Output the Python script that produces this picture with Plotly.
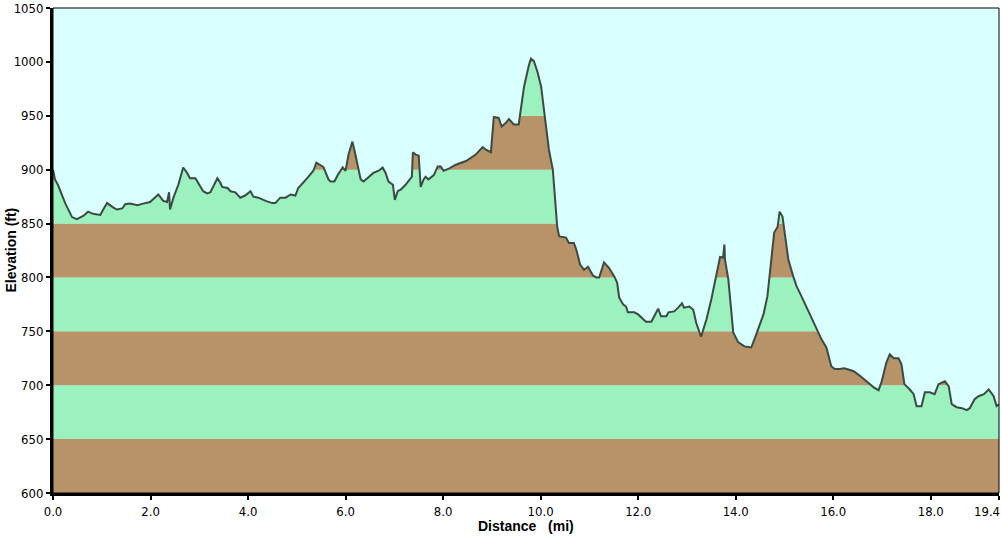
import plotly.graph_objects as go

# Distance (mi) and elevation (ft) along the route
distance_mi = [0.00, 0.04, 0.10, 0.25, 0.39, 0.49, 0.62, 0.72, 0.82, 0.97, 1.03, 1.11, 1.23, 1.31, 1.42, 1.48,
               1.58, 1.73, 1.85, 1.99, 2.16, 2.26, 2.34, 2.38, 2.40, 2.47, 2.57, 2.67, 2.75, 2.81, 2.92, 3.08,
               3.16, 3.23, 3.37, 3.43, 3.47, 3.58, 3.64, 3.74, 3.84, 3.94, 4.05, 4.11, 4.21, 4.36, 4.50, 4.56,
               4.66, 4.77, 4.87, 4.97, 5.03, 5.14, 5.24, 5.34, 5.40, 5.53, 5.55, 5.65, 5.69, 5.77, 5.84, 5.94,
               6.00, 6.06, 6.14, 6.18, 6.27, 6.31, 6.37, 6.47, 6.57, 6.68, 6.76, 6.82, 6.88, 6.97, 7.01, 7.07,
               7.13, 7.23, 7.36, 7.38, 7.44, 7.50, 7.54, 7.60, 7.64, 7.70, 7.81, 7.89, 7.95, 8.01, 8.12, 8.26,
               8.47, 8.67, 8.81, 8.88, 8.98, 9.04, 9.14, 9.20, 9.29, 9.35, 9.45, 9.55, 9.60, 9.66, 9.76, 9.80,
               9.86, 9.94, 10.01, 10.07, 10.17, 10.25, 10.34, 10.38, 10.52, 10.58, 10.68, 10.73, 10.81, 10.89,
               10.97, 11.07, 11.14, 11.20, 11.30, 11.40, 11.51, 11.57, 11.61, 11.69, 11.75, 11.79, 11.92, 12.00,
               12.10, 12.16, 12.27, 12.41, 12.47, 12.58, 12.62, 12.74, 12.82, 12.90, 12.94, 13.05, 13.13, 13.19,
               13.29, 13.40, 13.50, 13.60, 13.68, 13.74, 13.77, 13.78, 13.85, 13.95, 14.05, 14.18, 14.32, 14.42,
               14.49, 14.57, 14.65, 14.73, 14.79, 14.86, 14.90, 14.96, 15.00, 15.08, 15.18, 15.25, 15.35, 15.45,
               15.55, 15.66, 15.76, 15.86, 15.96, 16.03, 16.13, 16.23, 16.33, 16.42, 16.54, 16.68, 16.83, 16.93,
               16.99, 17.09, 17.16, 17.24, 17.34, 17.40, 17.46, 17.57, 17.65, 17.71, 17.81, 17.88, 17.98, 18.08,
               18.16, 18.29, 18.37, 18.43, 18.53, 18.64, 18.74, 18.80, 18.90, 18.98, 19.09, 19.19, 19.29, 19.35,
               19.40]
elevation_ft = [900, 891, 886, 869, 856, 854, 857, 861, 859, 858, 863, 869, 865, 863, 864, 868,
                868.5, 867, 868.5, 870, 877, 871, 870, 879, 863, 874, 886, 902, 897, 892, 892, 880,
                878, 879, 892, 888, 884, 883, 880, 879, 874, 876, 880, 875, 874, 871, 869, 869,
                874, 874, 877, 876, 883, 888, 893.5, 899, 906.5, 903, 902, 891, 889, 889, 895, 902,
                899, 914, 926, 918.5, 900, 891, 889, 892.6, 897, 899, 902, 897, 889, 886, 872, 880,
                881.5, 886, 893.5, 916, 914, 913, 884, 891, 893.5, 891, 895, 903, 903, 899, 901, 904.6,
                908, 914, 921, 918.5, 916, 949, 948, 940, 943.5, 947, 942, 942, 958, 977, 997, 1003,
                1001, 990, 977, 955.6, 918.5, 900, 847, 838, 837, 832, 832, 826, 812, 807,
                810, 802, 800, 800, 814, 809, 801, 795, 781.5, 775, 773, 767.6, 767.6, 765.7,
                761, 759, 759, 771, 764, 764, 767.6, 768.5, 772, 776, 772, 773, 770, 758,
                745, 761, 779.6, 801, 819, 818.5, 830.6, 816.7, 798, 749, 740, 736, 735, 747,
                756.5, 765.7, 782.4, 816.7, 841.7, 847, 861, 856.5, 841.7, 816.7, 801, 791.7, 782.4, 773,
                763, 752, 742.6, 735, 717.6, 715, 715, 715.7, 714, 713, 709, 703.7, 698, 695.4,
                702.8, 721, 728.7, 725, 725, 719.4, 701, 696, 691.7, 680.6, 680.6, 693.5, 693.5, 691.7,
                701, 703.7, 699, 682.4, 679.6, 678.7, 676.9, 678.7, 687, 689.8, 691.7, 696, 689.8, 680.6,
                682.4]

band_edges = [600, 650, 700, 750, 800, 850, 900, 950, 1000, 1050]
x_tick_vals = [0, 2, 4, 6, 8, 10, 12, 14, 16, 18, 19.4]
x_tick_text = ["0.0", "2.0", "4.0", "6.0", "8.0", "10.0", "12.0", "14.0", "16.0", "18.0", "19.4"]
y_tick_vals = [600, 650, 700, 750, 800, 850, 900, 950, 1000, 1050]

BROWN = "#B99368"
GREEN = "#9CF2BE"
SKY = "#D9FFFF"
LINE = "#3B4A42"

X_MAX = x_tick_vals[-1]
Y_TOP = y_tick_vals[-1]

fig = go.Figure()

# Alternating elevation bands (below the traces)
for i in range(len(band_edges) - 1):
    fig.add_shape(type="rect", xref="x", yref="y", x0=0, x1=X_MAX,
                  y0=band_edges[i], y1=band_edges[i + 1],
                  fillcolor=BROWN if i % 2 == 0 else GREEN, line_width=0, layer="below")

# Sky: fill between top of chart and the profile
fig.add_trace(go.Scatter(x=distance_mi, y=[Y_TOP] * len(distance_mi), mode="lines",
                         line=dict(width=0, color=SKY), hoverinfo="skip", showlegend=False))
fig.add_trace(go.Scatter(x=distance_mi, y=elevation_ft, mode="lines", fill="tonexty",
                         fillcolor=SKY, line=dict(width=0, color=SKY), hoverinfo="skip",
                         showlegend=False))
# Profile line
fig.add_trace(go.Scatter(x=distance_mi, y=elevation_ft, mode="lines",
                         line=dict(width=2, color=LINE), showlegend=False))

# thin frame on top/right
fig.add_shape(type="rect", xref="paper", yref="paper", x0=0, x1=1, y0=0, y1=1,
              line=dict(color="black", width=1), fillcolor="rgba(0,0,0,0)", layer="above")

tick_font = dict(family="DejaVu Sans Condensed, Liberation Sans Narrow, Liberation Sans, Arial",
                 size=13, color="black")
title_font = dict(family="Liberation Sans, Arial", size=14, color="black")

# last x label is drawn right-aligned so it stays inside the page
shown_x_text = x_tick_text[:-1] + [""]

fig.update_xaxes(range=[0, X_MAX], tickvals=x_tick_vals, ticktext=shown_x_text,
                 showgrid=False, zeroline=False, showline=True, linecolor="black", linewidth=3,
                 ticks="outside", ticklen=4, tickwidth=2, tickcolor="black", tickfont=tick_font,
                 automargin=False)
fig.update_yaxes(range=[600, Y_TOP], tickvals=y_tick_vals,
                 showgrid=False, zeroline=False, showline=True, linecolor="black", linewidth=3,
                 ticks="outside", ticklen=4, tickwidth=2, tickcolor="black", tickfont=tick_font,
                 ticklabeloverflow="allow", automargin=False)

fig.add_annotation(text=x_tick_text[-1], xref="x", yref="paper", x=X_MAX, y=0,
                   xanchor="right", yanchor="middle", xshift=3, yshift=-18,
                   showarrow=False, font=tick_font)

# Axis titles
fig.add_annotation(text="<b>Distance\u00a0\u00a0\u00a0(mi)</b>", xref="paper", yref="paper",
                   x=0.5, y=0, yshift=-33, xanchor="center", yanchor="middle",
                   showarrow=False, font=title_font)
fig.add_annotation(text="<b>Elevation (ft)</b>", xref="paper", yref="paper",
                   x=0, y=0.5, xshift=-43, xanchor="center", yanchor="middle", textangle=-90,
                   showarrow=False, font=title_font)

fig.update_layout(width=1002, height=536, margin=dict(l=53, r=3, t=8, b=43),
                  paper_bgcolor="white", plot_bgcolor=SKY, showlegend=False)

fig.write_html("out.html")
